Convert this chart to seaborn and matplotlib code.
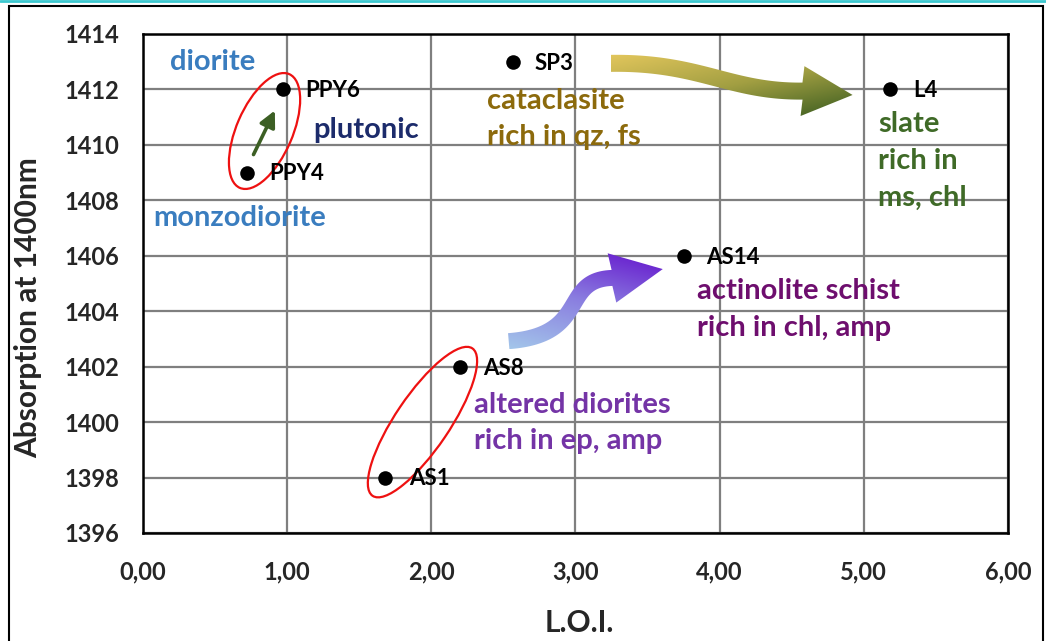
import numpy as np
import pandas as pd
import seaborn as sns
import matplotlib.pyplot as plt
from matplotlib.patches import Ellipse, Polygon, Rectangle
from matplotlib.colors import LinearSegmentedColormap
from matplotlib.transforms import IdentityTransform
from matplotlib.lines import Line2D

# sample data
samples = ["PPY4", "PPY6", "AS1", "AS8", "SP3", "AS14", "L4"]
loi = [0.72, 0.97, 1.68, 2.20, 2.57, 3.75, 5.18]
absorption = [1409, 1412, 1398, 1402, 1413, 1406, 1412]

x_ticks = [0, 1, 2, 3, 4, 5, 6]
x_tick_labels = ["0,00", "1,00", "2,00", "3,00", "4,00", "5,00", "6,00"]
y_ticks = [1396, 1398, 1400, 1402, 1404, 1406, 1408, 1410, 1412, 1414]

df = pd.DataFrame({"sample": samples, "loi": loi, "abs": absorption})

sns.set_theme(style="white")
plt.rcParams["font.family"] = ["Lato", "DejaVu Sans"]
plt.rcParams["font.weight"] = "bold"

fig = plt.figure(figsize=(10.46, 6.41), dpi=100)
ax = fig.add_axes([0.1364, 0.1685, 0.8273, 0.7785])

sns.scatterplot(data=df, x="loi", y="abs", color="black", s=110,
                edgecolor="black", linewidth=0, zorder=5, ax=ax)

ax.set_xlim(0, 6)
ax.set_ylim(1396, 1414)
ax.set_xticks(x_ticks)
ax.set_xticklabels(x_tick_labels)
ax.set_yticks(y_ticks)
ax.grid(True, color="#7f7f7f", linewidth=1.6)
ax.set_axisbelow(True)
for s in ax.spines.values():
    s.set_color("black")
    s.set_linewidth(1.8)
ax.tick_params(axis="x", length=0, pad=20, labelsize=17)
ax.tick_params(axis="y", length=0, pad=17, labelsize=17)
for lab in ax.get_xticklabels() + ax.get_yticklabels():
    lab.set_fontweight("bold")
ax.set_xlabel("L.O.I.", fontsize=21.5, fontweight="bold")
ax.set_ylabel("Absorption at 1400nm", fontsize=21.5, fontweight="bold")
ax.xaxis.set_label_coords(0.505, -0.152)
ax.yaxis.set_label_coords(-0.1164, 0.451)

# sample labels
label_dx = {"PPY4": 0.16, "PPY6": 0.16, "AS1": 0.17, "AS8": 0.16,
            "SP3": 0.15, "AS14": 0.16, "L4": 0.16}
for name, x, y in zip(samples, loi, absorption):
    ax.text(x + label_dx[name], y - 0.05, name, fontsize=16, fontweight="bold",
            color="black", va="center", ha="left", zorder=6)

# rock-type annotations
notes = [
    ("diorite", 0.19, 1413.0, "#3a7dbf"),
    ("monzodiorite", 0.07, 1407.35, "#3a7dbf"),
    ("plutonic", 1.18, 1410.55, "#1c2b6b"),
    ("cataclasite\nrich in qz, fs", 2.39, 1410.93, "#8c6a0c"),
    ("slate\nrich in\nms, chl", 5.10, 1409.42, "#3f6a27"),
    ("actinolite schist\nrich in chl, amp", 3.84, 1404.06, "#6e0e6e"),
    ("altered diorites\nrich in ep, amp", 2.30, 1399.97, "#7434a6"),
]
for txt, x, y, c in notes:
    ax.text(x, y, txt, fontsize=21, fontweight="bold", color=c,
            va="center", ha="left", linespacing=1.5, zorder=4)

# small arrow between the plutonic samples
ax.annotate("", xy=(0.925, 1411.33), xytext=(0.76, 1409.56),
            arrowprops=dict(arrowstyle="-|>,head_length=0.8,head_width=0.4",
                            color="#3c5f24", lw=2.6), zorder=4)

# red ellipses around pairs
def pair_ellipse(i, j, major, minor):
    p1 = ax.transData.transform((loi[i], absorption[i]))
    p2 = ax.transData.transform((loi[j], absorption[j]))
    c = (p1 + p2) / 2
    ang = np.degrees(np.arctan2(p2[1] - p1[1], p2[0] - p1[0]))
    e = Ellipse(c, major, minor, angle=ang, transform=IdentityTransform(),
                fill=False, edgecolor="#ee1111", linewidth=1.6, zorder=4)
    ax.add_patch(e)

pair_ellipse(0, 1, 124, 56)
pair_ellipse(2, 3, 178, 54)

# gradient curved arrows
def bezier(pts, n=80):
    t = np.linspace(0, 1, n)[:, None]
    p0, p1, p2, p3 = pts
    return ((1 - t) ** 3) * p0 + 3 * ((1 - t) ** 2) * t * p1 + 3 * (1 - t) * t ** 2 * p2 + t ** 3 * p3

def grad_arrow(ctrl, tip, shaft_w, head_w, colors, wdir):
    ctrl_d = ax.transData.transform(np.array(ctrl))
    tip_d = ax.transData.transform(np.array(tip))
    curve = bezier(ctrl_d)
    d = np.gradient(curve, axis=0)
    d /= np.linalg.norm(d, axis=1)[:, None]
    nrm = np.column_stack([-d[:, 1], d[:, 0]])
    left = curve + nrm * shaft_w / 2
    right = curve - nrm * shaft_w / 2
    end = curve[-1]
    hd = tip_d - end
    hd /= np.linalg.norm(hd)
    hn = np.array([-hd[1], hd[0]])
    poly = np.vstack([left, end + hn * head_w / 2, tip_d,
                      end - hn * head_w / 2, right[::-1]])
    clip = Polygon(poly, closed=True, transform=IdentityTransform())
    inv = ax.transData.inverted()
    lo = inv.transform(poly.min(axis=0))
    hi = inv.transform(poly.max(axis=0))
    u, v = np.meshgrid(np.linspace(0, 1, 200), np.linspace(0, 1, 200))
    g = wdir[0] * u + wdir[1] * v
    g = (g - g.min()) / (g.max() - g.min())
    cmap = LinearSegmentedColormap.from_list("g", colors)
    im = ax.imshow(g, extent=[lo[0], hi[0], lo[1], hi[1]], origin="lower",
                   cmap=cmap, aspect="auto", zorder=3, interpolation="bilinear")
    im.set_clip_path(clip)

grad_arrow([(3.245, 1412.94), (3.862, 1412.99), (4.07, 1411.91), (4.575, 1411.94)],
           (4.922, 1411.80), 17, 50, ["#e2c65c", "#a29f42", "#3a5c20"], (0.45, -0.55))
grad_arrow([(2.538, 1402.92), (3.10, 1403.14), (2.893, 1405.13), (3.254, 1405.2)],
           (3.606, 1405.52), 16, 50, ["#a3c6ea", "#8a7ee0", "#6412cc"], (0.3, 0.7))

ax.set_xlim(0, 6)
ax.set_ylim(1396, 1414)

# outer chart frame and top rule
fig.patches.append(Rectangle((9 / 1046, -0.05), 1034 / 1046, 1 - 6 / 641 + 0.05,
                             transform=fig.transFigure, fill=False,
                             edgecolor="black", linewidth=1.5))
fig.lines.append(Line2D([0, 1], [0.998, 0.998], transform=fig.transFigure,
                        color="#3cc8cf", linewidth=2))

fig.savefig("out.png", dpi=100)
